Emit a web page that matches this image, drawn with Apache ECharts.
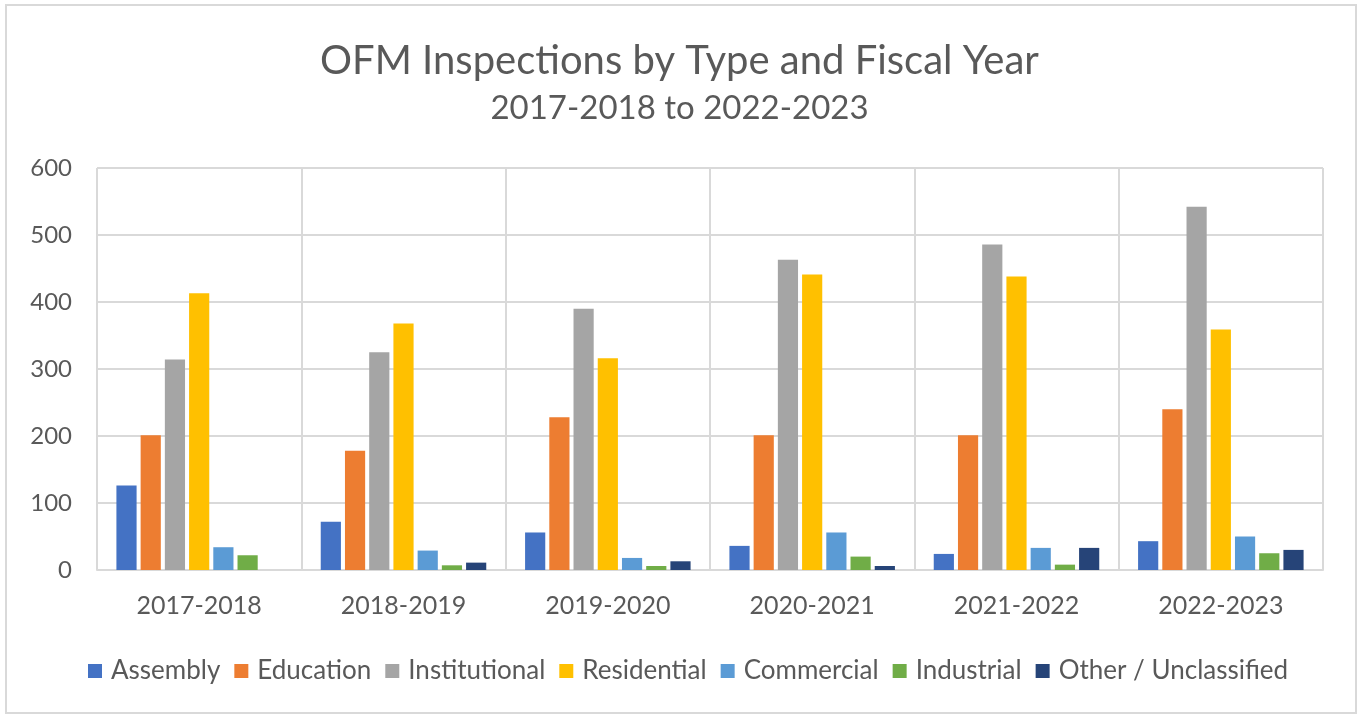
<!DOCTYPE html>
<html>
<head>
<meta charset="utf-8">
<script src="https://cdn.jsdelivr.net/npm/echarts@6/dist/echarts.min.js"></script>
<style>
html,body{margin:0;padding:0;background:#fff;}
#chart{width:1359px;height:715px;}
</style>
</head>
<body>
<div id="chart"></div>
<script>
var categories = ['2017-2018','2018-2019','2019-2020','2020-2021','2021-2022','2022-2023'];
var seriesNames = ['Assembly','Education','Institutional','Residential','Commercial','Industrial','Other / Unclassified'];
var assembly      = [126, 72, 56, 36, 24, 43];
var education     = [201, 178, 228, 201, 201, 240];
var institutional = [314, 325, 390, 463, 486, 542];
var residential   = [413, 368, 316, 441, 438, 359];
var commercial    = [34, 29, 18, 56, 33, 50];
var industrial    = [22, 7, 6, 20, 8, 25];
var other         = [0, 11, 13, 6, 33, 30];
var yTicks = [0, 100, 200, 300, 400, 500, 600];

var values = [assembly, education, institutional, residential, commercial, industrial, other];
var colors = ['#4472C4','#ED7D31','#A5A5A5','#FFC000','#5B9BD5','#70AD47','#264478'];
var font = 'Lato, "Open Sans", sans-serif';
var textColor = '#595959';

var chart = echarts.init(document.getElementById('chart'), null, {renderer:'canvas'});
var series = seriesNames.map(function(n, i){
  return {
    name: n,
    type: 'bar',
    data: values[i],
    itemStyle: {color: colors[i]},
    barGap: '20%',
    barCategoryGap: '19%',
    emphasis: {disabled: true}
  };
});
chart.setOption({
  animation: false,
  color: colors,
  title: [
    {text: 'OFM Inspections by Type and Fiscal Year', left: 'center', top: 36,
     textStyle: {fontFamily: font, fontSize: 40, fontWeight: 'normal', color: textColor}},
    {text: '2017-2018 to 2022-2023', left: 'center', top: 87,
     textStyle: {fontFamily: font, fontSize: 33, fontWeight: 'normal', color: textColor}}
  ],
  grid: {left: 97, top: 168, width: 1226, height: 402, containLabel: false},
  legend: {
    data: seriesNames,
    left: 83,
    top: 653,
    itemWidth: 14,
    itemHeight: 14,
    itemGap: 14,
    icon: 'rect',
    textStyle: {fontFamily: font, fontSize: 26, color: textColor, padding: [0,0,0,4]}
  },
  xAxis: {
    type: 'category',
    data: categories,
    axisLine: {show: true, lineStyle: {color: '#D9D9D9', width: 2}},
    axisTick: {show: false},
    splitLine: {show: true, lineStyle: {color: '#D9D9D9', width: 2}},
    axisLabel: {fontFamily: font, fontSize: 25, color: textColor, margin: 23}
  },
  yAxis: {
    type: 'value',
    min: yTicks[0],
    max: yTicks[yTicks.length-1],
    interval: 100,
    axisLine: {show: false},
    axisTick: {show: false},
    splitLine: {show: true, lineStyle: {color: '#D9D9D9', width: 2}},
    axisLabel: {fontFamily: font, fontSize: 24, color: textColor, margin: 25}
  },
  graphic: [{
    type: 'rect',
    shape: {x: 6, y: 5, width: 1350, height: 708},
    style: {fill: 'none', stroke: '#D9D9D9', lineWidth: 2},
    silent: true,
    z: -1
  }],
  series: series
});
</script>
</body>
</html>
